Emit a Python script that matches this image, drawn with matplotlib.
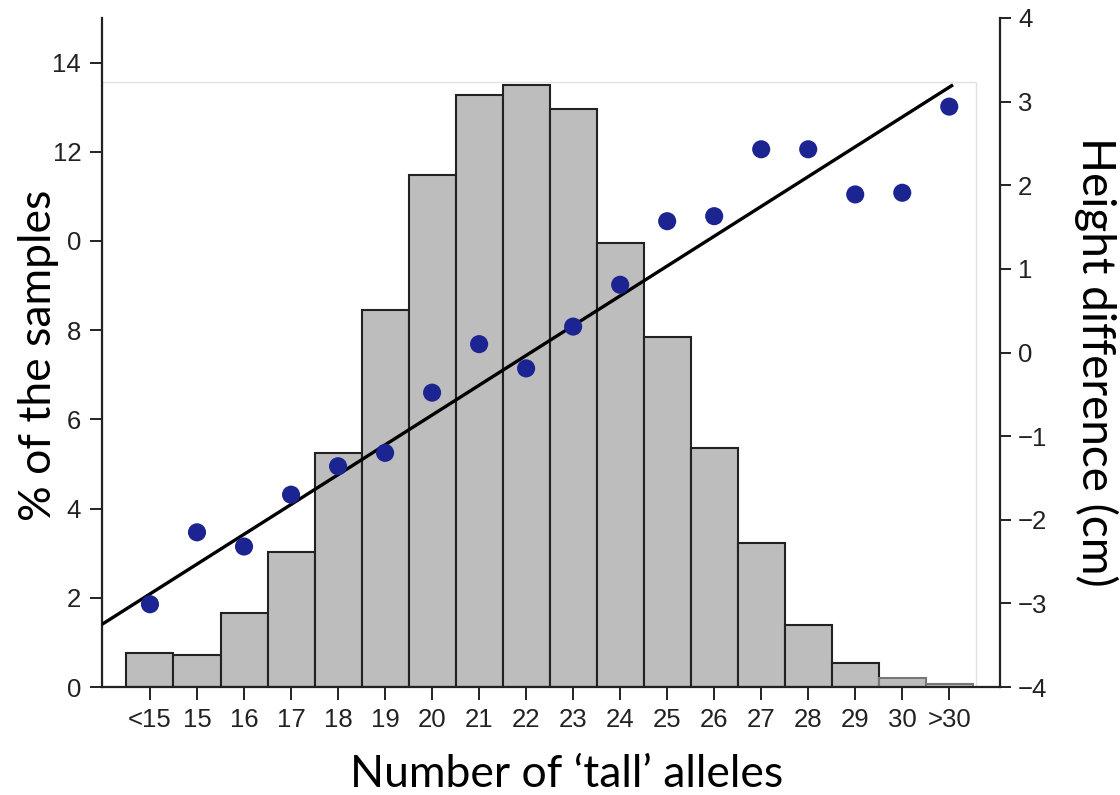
import matplotlib
matplotlib.use("Agg")
import matplotlib.pyplot as plt
from matplotlib.patches import Rectangle

# histogram: % of samples per allele count
categories = ["<15", "15", "16", "17", "18", "19", "20", "21", "22", "23",
              "24", "25", "26", "27", "28", "29", "30", ">30"]
pct_samples = [0.76, 0.72, 1.66, 3.02, 5.24, 8.45, 11.47, 13.28, 13.49, 12.97,
               9.95, 7.84, 5.35, 3.22, 1.39, 0.54, 0.20, 0.07]

# mean height difference (cm) per allele count
height_diff = [-3.01, -2.15, -2.32, -1.70, -1.36, -1.20, -0.48, 0.10, -0.19, 0.31,
               0.81, 1.57, 1.63, 2.43, 2.43, 1.89, 1.91, 2.94]

# fitted regression line (endpoints, in category index units)
fit_x = [-1.02, 17.05]
fit_y = [-3.25, 3.19]

left_ticks = [0, 2, 4, 6, 8, 10, 12, 14]
left_ticklabels = ["0", "2", "4", "6", "8", "0", "12", "14"]
right_ticks = [-4, -3, -2, -1, 0, 1, 2, 3, 4]

tick_font = "Liberation Sans"
label_font = "Lato"
ink = "#222222"

fig = plt.figure(figsize=(11.2, 7.95), dpi=100)
ax = fig.add_axes([0.0911, 0.1358, 0.8018, 0.8416])
xs = list(range(len(categories)))

edges = [ink] * (len(categories) - 2) + ["#777777", "#777777"]
ax.bar(xs, pct_samples, width=1.0, color="#bdbdbd", edgecolor=edges,
       linewidth=1.5, zorder=2)

# faint panel frame seen in the source image
ax.add_patch(Rectangle((0, 0), 0.973, 0.904, transform=ax.transAxes,
                       fill=False, edgecolor="#e2e2e2", linewidth=1, zorder=1))

ax.set_xlim(-1.02, 18.08)
ax.set_ylim(0, 15)
ax.set_xticks(xs)
ax.set_xticklabels(categories)
ax.set_yticks(left_ticks)
ax.set_yticklabels(left_ticklabels)
ax.spines["top"].set_visible(False)
ax.spines["right"].set_visible(False)
for s in ("left", "bottom"):
    ax.spines[s].set_linewidth(1.6)
    ax.spines[s].set_color(ink)
ax.tick_params(axis="both", direction="out", length=9, width=1.4, color=ink,
               labelsize=18.5, labelcolor=ink, pad=6)
for t in ax.get_xticklabels() + ax.get_yticklabels():
    t.set_fontfamily(tick_font)

ax2 = ax.twinx()
ax2.set_ylim(-4, 4)
ax2.set_yticks(right_ticks)
ax2.plot(fit_x, fit_y, color="black", linewidth=2.4, zorder=3)
ax2.scatter(xs, height_diff, s=170, color="#1b2490", edgecolor="none", zorder=4)
for s in ("top", "left", "bottom"):
    ax2.spines[s].set_visible(False)
ax2.spines["right"].set_linewidth(1.6)
ax2.spines["right"].set_color(ink)
ax2.tick_params(axis="y", direction="out", length=8, width=1.4, color=ink,
                labelsize=18.5, labelcolor=ink, pad=5)
for t in ax2.get_yticklabels():
    t.set_fontfamily(tick_font)

fig.text(0.034, 0.553, "% of the samples", rotation=90, ha="center", va="center",
         fontsize=32, family=label_font, color="black")
fig.text(0.979, 0.545, "Height difference (cm)", rotation=-90, ha="center",
         va="center", fontsize=33, family=label_font, color="black")
fig.text(0.506, 0.026, "Number of \u2018tall\u2019 alleles", ha="center",
         va="center", fontsize=32, family=label_font, color="black")

fig.savefig("out.png", dpi=100)
